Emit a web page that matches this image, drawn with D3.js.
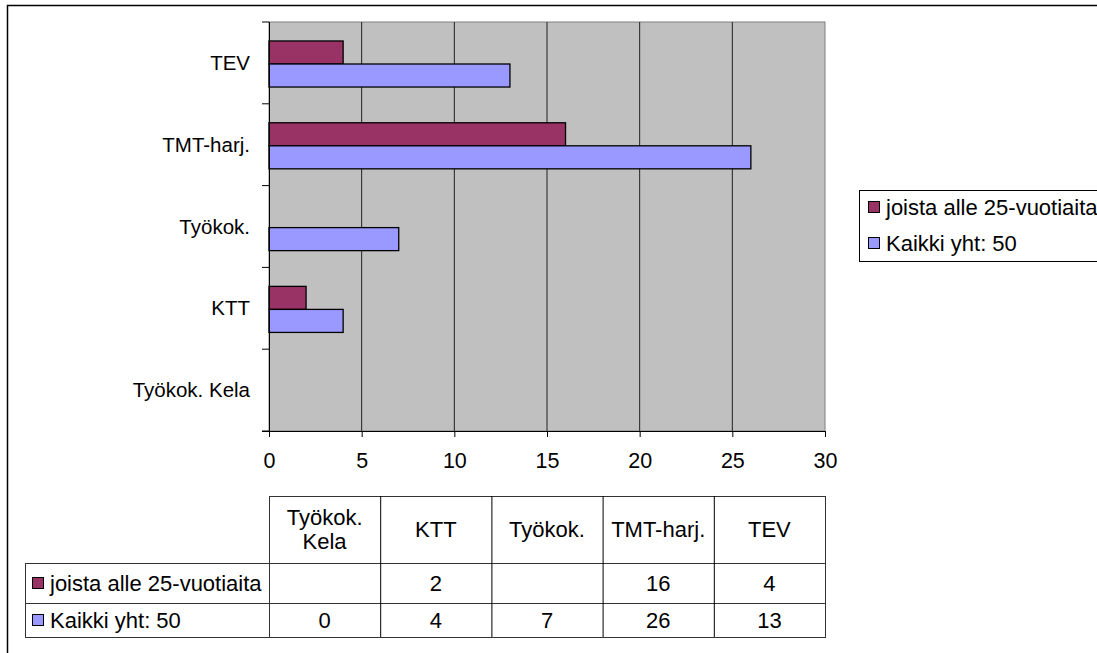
<!DOCTYPE html>
<html lang="fi">
<head>
<meta charset="UTF-8">
<title>Kaikki yht: 50</title>
<style>
  body { margin: 0; background: #fff; }
  text { font-family: "Liberation Sans", Arial, sans-serif; fill: #000; }
</style>
</head>
<body>
<div class="chart"></div>
<script src="https://d3js.org/d3.v7.min.js"></script>
<script>
// data, bottom-to-top order as in the data table
var categories = ["Työkok. Kela", "KTT", "Työkok.", "TMT-harj.", "TEV"]
var headerLines = [["Työkok.", "Kela"], ["KTT"], ["Työkok."], ["TMT-harj."], ["TEV"]]
var seriesNames = ["joista alle 25-vuotiaita", "Kaikki yht: 50"]
var under25 = [null, 2, null, 16, 4]
var allTotal = [0, 4, 7, 26, 13]
var xTicks = [0, 5, 10, 15, 20, 25, 30]
var colors = ["#993366", "#9999FF"]

var W = 1097, H = 653
var fontSize = 20.5, tickFont = 21.5, boxFont = 22
var plot = {left: 269, right: 825, top: 22, bottom: 431}

var svg = d3.select(".chart").append("svg")
  .attr("width", W).attr("height", H)

// outer frame
svg.append("rect")
  .attr("x", 7.5).attr("y", 5.5)
  .attr("width", W).attr("height", H)
  .attr("fill", "none").attr("stroke", "#000").attr("stroke-width", 1.5)

var x = d3.scaleLinear().domain([0, 30]).range([plot.left, plot.right])
var y = d3.scaleBand().domain(categories.slice().reverse()).range([plot.top, plot.bottom])
var ys = d3.scaleBand().domain(seriesNames)
  .range([y.bandwidth() * 0.232, y.bandwidth() * 0.795])

// plot background
svg.append("rect")
  .attr("x", plot.left).attr("y", plot.top)
  .attr("width", plot.right - plot.left).attr("height", plot.bottom - plot.top)
  .attr("fill", "#C0C0C0").attr("stroke", "#808080")

// vertical grid
svg.append("g")
  .selectAll("line")
  .data(xTicks.slice(1, -1))
  .enter().append("line")
  .attr("x1", d => x(d)).attr("x2", d => x(d))
  .attr("y1", plot.top).attr("y2", plot.bottom)
  .attr("stroke", "#222").attr("stroke-width", 1)

// bars
var rows = []
categories.forEach(function(c, i) {
  rows.push({cat: c, s: seriesNames[0], v: under25[i], col: colors[0]})
  rows.push({cat: c, s: seriesNames[1], v: allTotal[i], col: colors[1]})
})
svg.append("g")
  .selectAll("rect")
  .data(rows.filter(d => d.v))
  .enter().append("rect")
  .attr("x", x(0))
  .attr("y", d => y(d.cat) + ys(d.s))
  .attr("width", d => x(d.v) - x(0))
  .attr("height", ys.bandwidth())
  .attr("fill", d => d.col)
  .attr("stroke", "#000").attr("stroke-width", 1.3)

// x axis
var xAxis = svg.append("g")
  .attr("transform", "translate(0," + plot.bottom + ")")
  .call(d3.axisBottom(x).tickValues(xTicks).tickSize(6).tickPadding(16).tickSizeOuter(0))
xAxis.select(".domain").attr("stroke", "#000").attr("d", "M" + (plot.left - 7) + ",0.5H" + plot.right)
xAxis.selectAll("line").attr("stroke", "#000")
xAxis.selectAll("text").style("font-size", tickFont + "px").style("font-family", "Liberation Sans, Arial, sans-serif")

// y axis with ticks between categories
var yAxis = svg.append("g").attr("transform", "translate(" + plot.left + ",0)")
yAxis.append("line")
  .attr("x1", 0.5).attr("x2", 0.5).attr("y1", plot.top).attr("y2", plot.bottom)
  .attr("stroke", "#000")
var bounds = categories.map(c => y(c)).concat([plot.bottom])
yAxis.selectAll(".tk")
  .data(bounds)
  .enter().append("line")
  .attr("x1", -7).attr("x2", 0)
  .attr("y1", d => d).attr("y2", d => d)
  .attr("stroke", "#000")
yAxis.selectAll("text")
  .data(categories)
  .enter().append("text")
  .attr("x", -19)
  .attr("y", d => y(d) + y.bandwidth() / 2)
  .attr("text-anchor", "end").attr("dy", "0.35em")
  .style("font-size", fontSize + "px")
  .text(d => d)

// legend
var lg = svg.append("g")
lg.append("rect")
  .attr("x", 859.5).attr("y", 190.5).attr("width", 260).attr("height", 71)
  .attr("fill", "#fff").attr("stroke", "#000")
seriesNames.forEach(function(s, i) {
  var cy = 207 + i * 36
  lg.append("rect")
    .attr("x", 868.5).attr("y", cy - 5.5).attr("width", 11).attr("height", 11)
    .attr("fill", colors[i]).attr("stroke", "#000")
  lg.append("text")
    .attr("x", 886).attr("y", cy).attr("dy", "0.35em")
    .style("font-size", boxFont + "px")
    .text(s)
})

// data table
var colW = (plot.right - plot.left) / categories.length
var tTop = 496, r1 = 563, r2 = 603, r3 = 637, tLeft = 25
var tb = svg.append("g").attr("stroke", "#333").attr("fill", "none")
tb.append("rect").attr("x", plot.left + 0.5).attr("y", tTop + 0.5)
  .attr("width", plot.right - plot.left).attr("height", r3 - tTop)
tb.append("rect").attr("x", tLeft + 0.5).attr("y", r1 + 0.5)
  .attr("width", plot.right - tLeft).attr("height", r3 - r1)
tb.append("line").attr("x1", tLeft).attr("x2", plot.right).attr("y1", r2 + 0.5).attr("y2", r2 + 0.5)
tb.selectAll(".vl")
  .data(d3.range(1, categories.length))
  .enter().append("line")
  .attr("x1", i => plot.left + i * colW + 0.5).attr("x2", i => plot.left + i * colW + 0.5)
  .attr("y1", tTop).attr("y2", r3)
  .attr("stroke", "#000")

var tx = svg.append("g").style("font-size", boxFont + "px")
headerLines.forEach(function(lines, i) {
  var cx = plot.left + (i + 0.5) * colW
  var cy = (tTop + r1) / 2
  lines.forEach(function(l, j) {
    tx.append("text")
      .attr("x", cx).attr("y", cy + (j - (lines.length - 1) / 2) * 24)
      .attr("dy", "0.35em").attr("text-anchor", "middle")
      .text(l)
  })
})
var tableRows = [under25, allTotal]
var rowMid = [(r1 + r2) / 2, (r2 + r3) / 2]
tableRows.forEach(function(vals, k) {
  tx.append("rect")
    .attr("x", 32.5).attr("y", rowMid[k] - 5.5).attr("width", 11).attr("height", 11)
    .attr("fill", colors[k]).attr("stroke", "#000")
  tx.append("text")
    .attr("x", 50).attr("y", rowMid[k]).attr("dy", "0.35em")
    .text(seriesNames[k])
  vals.forEach(function(v, i) {
    if (v === null) return
    tx.append("text")
      .attr("x", plot.left + (i + 0.5) * colW).attr("y", rowMid[k])
      .attr("dy", "0.35em").attr("text-anchor", "middle")
      .text(v)
  })
})
</script>
</body>
</html>
